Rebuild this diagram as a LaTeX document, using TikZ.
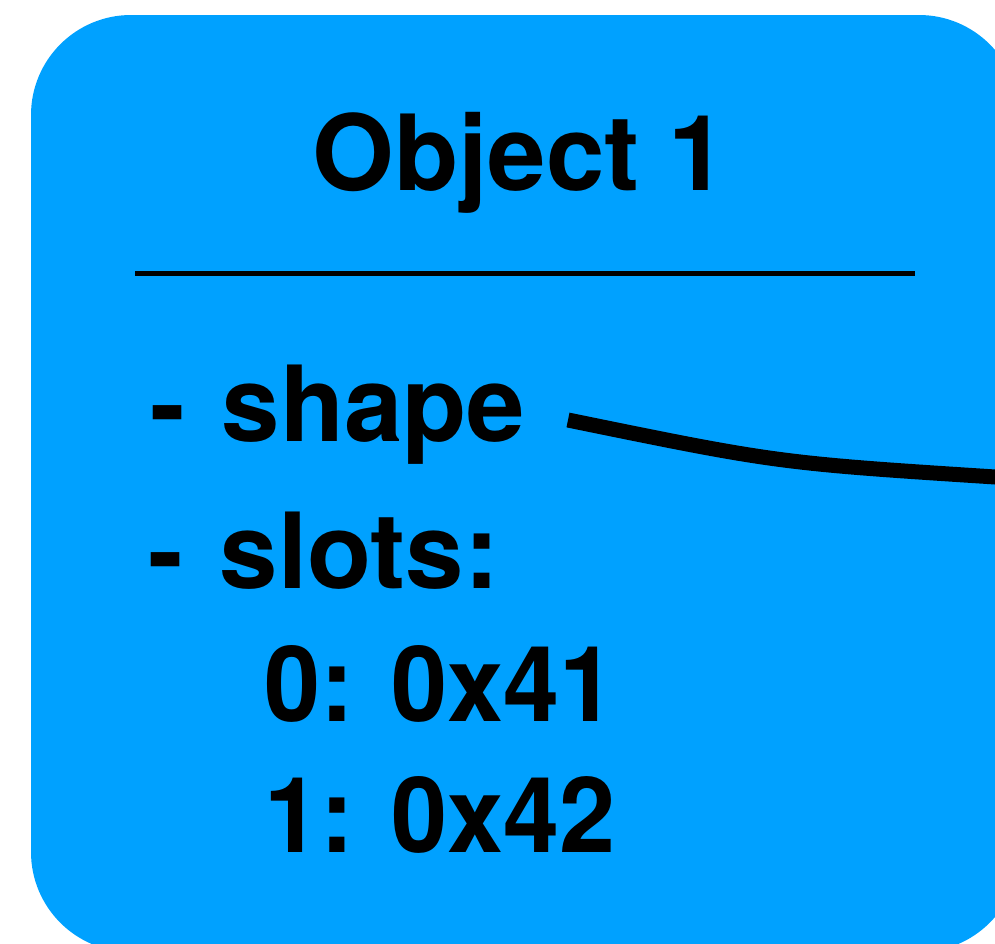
\documentclass[tikz,border=0pt]{standalone}
\usepackage{fontspec}
\setmainfont{TeX Gyre Heros}
\newfontfamily\digitfont[FakeStretch=0.96]{TeX Gyre Heros}
\definecolor{objblue}{RGB}{0,161,255}
\begin{document}
\begin{tikzpicture}[x=1pt,y=-1pt,
  boxtxt/.style={font=\fontsize{105}{120}\selectfont\bfseries, inner sep=0pt, anchor=base west},
  digtxt/.style={boxtxt, font=\digitfont\fontsize{105}{120}\selectfont\bfseries},
  link/.style={line width=15pt, line cap=butt}]
\useasboundingbox (0,0) rectangle (995,943);
\clip (0,0) rectangle (995,943);
\fill[objblue, rounded corners=100pt] (31,15) rectangle (1019,952);
\node[boxtxt, anchor=base] (title) at (520,190) {Object 1};
\coordinate (ruleL) at (135,273);
\coordinate (ruleR) at (915,273);
\draw[line width=5pt] (ruleL) -- (ruleR);
\node[boxtxt] (shape) at (150,441) {-\hspace{0.35em}shape};
\node[boxtxt] (slots) at (148,588) {-\hspace{0.35em}slots:};
\node[digtxt] (s0) at (264,721) {0: 0x41};
\node[digtxt] (s1) at (264,852) {1: 0x42};
\coordinate (linkS) at (568,420);
\coordinate (linkE) at (1000,477.3);
\draw[link] (linkS) .. controls (778,463) .. (linkE);
\end{tikzpicture}
\end{document}
